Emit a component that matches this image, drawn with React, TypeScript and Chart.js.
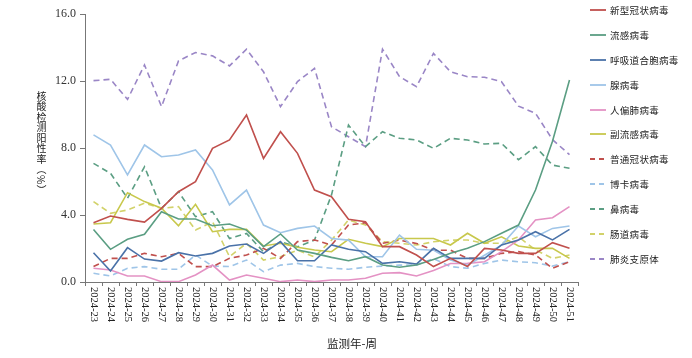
import React, { useEffect, useRef } from "react";
import { Chart, registerables } from "chart.js";

Chart.register(...registerables);

const weeks = [
  "2024-23","2024-24","2024-25","2024-26","2024-27","2024-28","2024-29","2024-30",
  "2024-31","2024-32","2024-33","2024-34","2024-35","2024-36","2024-37","2024-38",
  "2024-39","2024-40","2024-41","2024-42","2024-43","2024-44","2024-45","2024-46",
  "2024-47","2024-48","2024-49","2024-50","2024-51",
];

const yTicks = [0, 4, 8, 12, 16];

const covid = [3.54,3.94,3.74,3.58,4.4,5.39,5.99,7.98,8.48,9.97,7.38,8.97,7.68,5.49,5.09,3.74,3.6,2.11,2.11,1.61,0.92,1.41,0.92,2.01,1.91,1.71,1.71,2.35,2.01];
const flu = [3.14,1.95,2.55,2.85,4.2,3.76,3.76,3.36,3.46,3.1,2.11,2.87,1.91,1.71,1.47,1.27,1.51,1.01,0.88,1.01,1.35,1.71,2.01,2.41,2.91,3.4,5.49,8.4,12.06];
const rsv = [1.75,0.66,2.05,1.37,1.25,1.75,1.55,1.71,2.15,2.27,1.71,2.41,1.27,1.27,2.21,1.95,1.81,1.11,1.21,1.07,2.01,1.41,1.41,1.41,2.21,2.51,3.0,2.51,3.14];
const adeno = [8.78,8.18,6.39,8.18,7.48,7.58,7.88,6.69,4.6,5.49,3.4,2.94,3.2,3.34,2.6,2.5,1.51,1.51,2.8,1.95,1.9,1.31,1.0,1.6,2.2,3.34,2.7,3.2,3.34];
const hmpv = [0.82,0.72,0.36,0.36,0.02,0.02,0.42,1.01,0.12,0.42,0.22,0.02,0.12,0.02,0.12,0.12,0.22,0.52,0.56,0.36,0.68,1.1,1.11,1.21,1.81,2.51,3.7,3.84,4.5];
const para = [3.46,3.54,5.33,4.8,4.4,3.36,4.64,3.0,3.14,3.14,2.15,2.31,2.07,1.91,1.81,2.55,2.31,2.11,2.6,2.6,2.6,2.21,2.91,2.31,2.7,2.15,2.01,2.01,1.41];
const hcov = [0.92,1.41,1.41,1.71,1.51,1.71,0.92,0.92,1.41,1.61,2.01,1.41,2.41,2.51,2.21,3.4,3.54,2.31,2.5,2.3,1.9,1.9,1.41,1.41,1.71,1.81,1.61,0.82,1.21];
const boca = [0.52,0.36,0.82,0.92,0.76,0.76,1.61,0.95,0.92,1.31,0.62,1.01,1.11,0.92,0.82,0.76,0.88,0.95,1.01,1.01,1.4,0.92,0.82,1.11,1.31,1.21,1.15,0.95,1.21];
const rhino = [7.08,6.49,5.0,6.88,4.4,5.39,3.9,4.2,2.6,2.9,1.8,2.4,2.1,2.5,5.2,9.37,8.08,8.97,8.58,8.48,7.98,8.58,8.48,8.24,8.28,7.3,8.08,6.98,6.79];
const entero = [4.8,4.1,4.3,4.7,4.4,4.5,3.1,3.6,1.51,2.31,1.31,1.51,1.9,1.5,2.5,3.7,3.4,2.41,2.31,2.21,2.4,2.5,2.51,2.31,2.31,2.7,1.91,1.41,1.61];
const myco = [12.02,12.1,10.9,12.96,10.47,13.2,13.7,13.5,12.9,13.9,12.55,10.47,11.96,12.76,9.27,8.67,8.08,13.9,12.26,11.66,13.65,12.55,12.26,12.22,11.96,10.5,10.07,8.5,7.6];

const seriesNames = ["新型冠状病毒","流感病毒","呼吸道合胞病毒","腺病毒","人偏肺病毒","副流感病毒","普通冠状病毒","博卡病毒","鼻病毒","肠道病毒","肺炎支原体"];
const seriesData = [covid, flu, rsv, adeno, hmpv, para, hcov, boca, rhino, entero, myco];
const seriesColors = ["#c0504d","#5b9e83","#4a72a8","#9fc5e8","#e492c4","#c8c84c","#c0504d","#9fc5e8","#5b9e83","#d2d26a","#9a86c6"];
const seriesDashed = [false,false,false,false,false,false,true,true,true,true,true];

const xTitle = "监测年-周";
const yTitle = "核酸检测阳性率（%）";

const CJK = "'Noto Sans CJK SC', sans-serif";
const SERIF = "'Liberation Serif', 'Times New Roman', serif";

const xLabelPlugin = {
  id: "xLabelPlugin",
  afterDraw(chart: any) {
    const ctx = chart.ctx;
    const xs = chart.scales.x;
    const top = chart.chartArea.bottom + 5;
    ctx.save();
    ctx.fillStyle = "#222";
    ctx.font = `10.5px ${SERIF}`;
    ctx.textAlign = "left";
    ctx.textBaseline = "middle";
    weeks.forEach((w, i) => {
      const x = xs.getPixelForValue(i);
      ctx.save();
      ctx.translate(x, top);
      ctx.rotate(Math.PI / 2);
      ctx.fillText(w, 0, 0);
      ctx.restore();
    });
    ctx.restore();
  },
};

export default function App() {
  const ref = useRef<HTMLCanvasElement>(null);

  useEffect(() => {
    document.body.style.margin = "0";
    const canvas = ref.current!;
    const chart = new Chart(canvas, {
      type: "line",
      data: {
        labels: weeks,
        datasets: seriesNames.map((name, i) => ({
          label: name,
          data: seriesData[i],
          borderColor: seriesColors[i],
          backgroundColor: seriesColors[i],
          borderWidth: 1.6,
          borderDash: seriesDashed[i] ? [6, 4] : [],
          pointRadius: 0,
          tension: 0,
          fill: false,
        })),
      },
      options: {
        responsive: false,
        animation: false,
        layout: { padding: { top: 14, right: 114, left: 0, bottom: 0 } },
        plugins: {
          legend: { display: false },
          tooltip: { enabled: false },
        },
        scales: {
          x: {
            type: "category",
            offset: true,
            grid: { offset: true, drawOnChartArea: false, tickLength: 4, color: "#777" },
            border: { color: "#777", width: 1 },
            ticks: { display: false },
            afterFit: (s: any) => { s.height = 76; },
          },
          y: {
            min: 0,
            max: 16,
            afterBuildTicks: (s: any) => { s.ticks = yTicks.map((v) => ({ value: v })); },
            grid: { drawOnChartArea: false, tickLength: 5, color: "#777" },
            border: { color: "#777", width: 1 },
            ticks: {
              padding: 4,
              color: "#333",
              font: { family: SERIF, size: 12 },
              callback: (v: any) => Number(v).toFixed(1),
            },
            afterFit: (s: any) => { s.width = 85; },
          },
        },
      },
      plugins: [xLabelPlugin],
    });
    return () => chart.destroy();
  }, []);

  return (
    <div style={{ position: "relative", width: 692, height: 358, background: "#fff", overflow: "hidden" }}>
      <canvas ref={ref} width={692} height={358} style={{ display: "block" }} />
      <div
        style={{
          position: "absolute",
          left: 35,
          top: 91,
          writingMode: "vertical-rl",
          fontFamily: CJK,
          fontSize: 10,
          letterSpacing: 0.5,
          color: "#222",
          lineHeight: "12px",
        }}
      >
        {yTitle}
      </div>
      <div
        style={{
          position: "absolute",
          left: 302,
          width: 100,
          top: 335,
          textAlign: "center",
          fontFamily: CJK,
          fontSize: 11.5,
          color: "#222",
          lineHeight: "16px",
        }}
      >
        {xTitle}
      </div>
      <div style={{ position: "absolute", left: 590, top: -2.5 }}>
        {seriesNames.map((name, i) => (
          <div key={name} style={{ height: 24.9, display: "flex", alignItems: "center" }}>
            <svg width={16} height={4} style={{ display: "block" }}>
              <line
                x1={0}
                y1={2}
                x2={16}
                y2={2}
                stroke={seriesColors[i]}
                strokeWidth={1.8}
                strokeDasharray={seriesDashed[i] ? "5 4" : undefined}
              />
            </svg>
            <span
              style={{
                marginLeft: 4,
                fontFamily: CJK,
                fontSize: 9.5,
                letterSpacing: 0.3,
                color: "#222",
                whiteSpace: "nowrap",
              }}
            >
              {name}
            </span>
          </div>
        ))}
      </div>
    </div>
  );
}
